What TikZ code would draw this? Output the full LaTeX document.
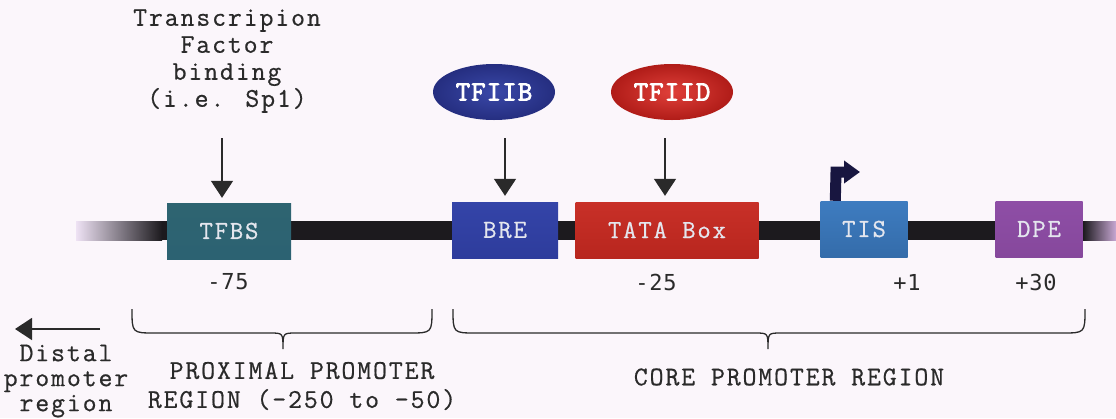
\documentclass[tikz,border=0pt]{standalone}
\usepackage{fontspec}
\setmainfont{Latin Modern Mono}[LetterSpace=7, FakeBold=0.6]
\newfontfamily\boldmono{Latin Modern Mono}[LetterSpace=4, FakeBold=3]
\newfontfamily\numfont{DejaVu Sans Mono}[LetterSpace=4]
\usetikzlibrary{arrows.meta,shapes.geometric}
\definecolor{bg}{HTML}{FBF6FB}
\definecolor{dna}{HTML}{1C1A1E}
\definecolor{ink}{HTML}{2A2A2A}
\definecolor{boxtxt}{HTML}{E4E6EE}
\definecolor{tfbsT}{HTML}{2E6471}\definecolor{tfbsM}{HTML}{4A8C98}\definecolor{tfbsB}{HTML}{2C6272}
\definecolor{breT}{HTML}{3444A8}\definecolor{breM}{HTML}{3E50BC}\definecolor{breB}{HTML}{2E3C9C}
\definecolor{tataT}{HTML}{C83028}\definecolor{tataM}{HTML}{E4443C}\definecolor{tataB}{HTML}{B8261E}
\definecolor{tisT}{HTML}{3E7CC0}\definecolor{tisM}{HTML}{4E90D6}\definecolor{tisB}{HTML}{346CAA}
\definecolor{dpeT}{HTML}{8E4EA6}\definecolor{dpeM}{HTML}{A364BA}\definecolor{dpeB}{HTML}{86489C}
\definecolor{iibI}{HTML}{3A48A8}\definecolor{iibO}{HTML}{252E80}
\definecolor{iidI}{HTML}{E0403A}\definecolor{iidO}{HTML}{B01C18}
\definecolor{fadeA}{HTML}{EEE2F4}
\definecolor{fadeL}{HTML}{8A5C9C}
\definecolor{fadeR}{HTML}{C8A8D4}
\begin{document}
\begin{tikzpicture}[x=1pt,y=-1pt,
  gene/.style={rectangle, inner sep=0pt, minimum height=56pt, text=boxtxt,
    font=\fontsize{26}{26}\selectfont},
  factor/.style={ellipse, inner sep=0pt, minimum width=122pt, minimum height=56pt,
    text=white, font=\boldmono\fontsize{28}{28}\selectfont},
  lbl/.style={text=ink, font=\fontsize{27}{27}\selectfont, align=center},
  num/.style={text=ink, font=\numfont\fontsize{22}{22}\selectfont},
  arr/.style={draw=ink, line width=1.6pt, -{Triangle[width=22pt,length=17pt]}},
  brace/.style={draw=ink, line width=1.3pt}]
\fill[bg] (0,0) rectangle (1116,418);
\useasboundingbox (0,0) rectangle (1116,418);
% DNA strand
\fill[dna] (160,221) rectangle (1085,240);
\shade[left color=fadeA, middle color=fadeL, right color=dna] (76,221) rectangle (162,240);
\shade[left color=dna, right color=fadeR] (1083,221) rectangle (1116,240);
% elements
\node[gene, minimum width=124pt, top color=tfbsT, middle color=tfbsM, bottom color=tfbsB] (tfbs) at (229,231) {TFBS};
\node[gene, minimum width=106pt, top color=breT, middle color=breM, bottom color=breB] (bre) at (505,230) {BRE};
\node[gene, minimum width=183pt, top color=tataT, middle color=tataM, bottom color=tataB] (tata) at (667,230) {TATA Box};
\node[gene, minimum width=87pt, top color=tisT, middle color=tisM, bottom color=tisB] (tis) at (864,229) {TIS};
\node[gene, minimum width=87pt, top color=dpeT, middle color=dpeM, bottom color=dpeB] (dpe) at (1039,229) {DPE};
% transcription start arrow
\coordinate (tsbend) at (836,172);
\draw[draw=dna!85!blue, line width=11pt, -{Triangle[width=22pt,length=16pt]}]
  ([xshift=15pt]tis.north west) -- (tsbend) -- ++(24,0);
% factors
\node[factor, inner color=iibI, outer color=iibO] (tfiib) at (494,92) {TFIIB};
\node[factor, inner color=iidI, outer color=iidO] (tfiid) at (672,92) {TFIID};
\node[lbl] (tftext) at (227,61) {Transcripion\\Factor\\binding\\(i.e. Sp1)};
% binding arrows
\coordinate (tfa) at (222,138);
\draw[arr, shorten >=5pt] (tfa) -- (tfa |- tfbs.north);
\draw[arr, shorten <=18pt, shorten >=6pt] (bre.north |- tfiib.south) -- (bre.north);
\draw[arr, shorten <=18pt, shorten >=6pt] ([xshift=-2pt]tata.north |- tfiid.south) -- ([xshift=-2pt]tata.north);
% positions
\node[num] (p75) at (228,282) {-75};
\node[num] (p25) at (656,282) {-25};
\node[num] (p1) at (907,282) {+1};
\node[num] (p30) at (1036,282) {+30};
% distal arrow
\coordinate (dstart) at (100,329);
\coordinate (dend) at (15,329);
\draw[arr, line width=1.4pt] (dstart) -- (dend);
\node[lbl, font=\fontsize{27}{25}\selectfont] (distal) at (66,381) {Distal\\promoter\\region};
% braces
\coordinate (b1l) at (132,309);
\coordinate (b1m) at (283,349);
\coordinate (b1r) at (432,309);
\draw[brace] (b1l) .. controls (132,333) .. (155,333) -- (270,333)
  .. controls (283,333) .. (b1m) .. controls (283,333) .. (296,333)
  -- (409,333) .. controls (432,333) .. (b1r);
\coordinate (b2l) at (453,309);
\coordinate (b2m) at (768,349);
\coordinate (b2r) at (1085,309);
\draw[brace] (b2l) .. controls (453,333) .. (476,333) -- (755,333)
  .. controls (768,333) .. (b2m) .. controls (768,333) .. (781,333)
  -- (1062,333) .. controls (1085,333) .. (b2r);
\node[lbl, font=\fontsize{27}{29}\selectfont] (prox) at (302,386) {PROXIMAL PROMOTER\\REGION (-250 to –50)};
\node[lbl] (core) at (789,377) {CORE PROMOTER REGION};
\end{tikzpicture}
\end{document}
